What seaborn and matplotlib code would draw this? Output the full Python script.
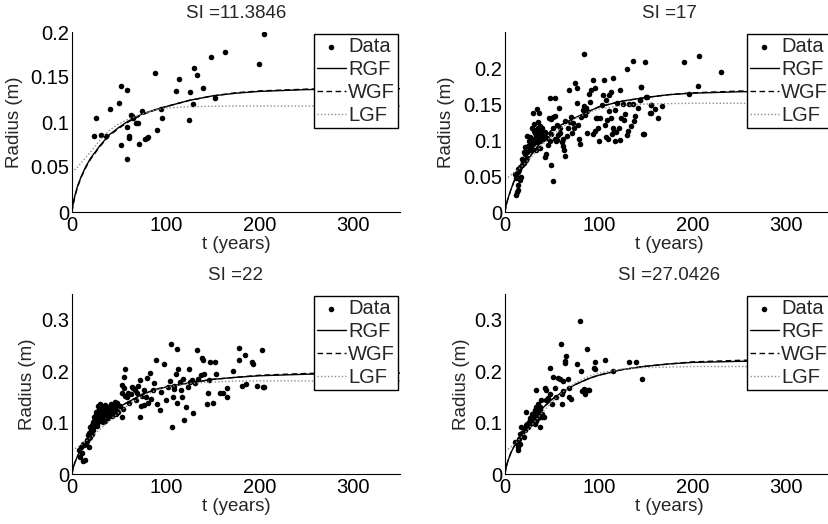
import matplotlib
matplotlib.use("Agg")
import matplotlib.pyplot as plt
import seaborn as sns

# ─── data ───────────────────────────────────────────────────────────────────

TITLES = ["SI =11.3846", "SI =17", "SI =22", "SI =27.0426"]

# common time grid for the fitted curves
fit_t = [0, 1, 3, 6, 10, 15, 20, 30, 40, 50, 60, 75, 90, 100, 125, 150, 175, 200, 250, 300, 350]

# SI = 11.3846
tl_t = [23.8, 25.9, 31.2, 35.8, 40.8, 50.0, 52.1, 52.1, 58.2, 58.9, 58.2, 60.3, 61.0, 62.8,
        64.5, 65.6, 68.1, 69.9, 72.0, 74.8, 78.0, 80.1, 81.6, 88.3, 90.8, 95.4, 96.1, 111.0,
        113.8, 124.8, 126.2, 129.0, 130.0, 133.0, 140.0, 148.2, 152.8, 162.8, 200.0, 205.3]
tl_r = [0.084, 0.105, 0.086, 0.084, 0.115, 0.121, 0.140, 0.075, 0.059, 0.136, 0.094, 0.085,
        0.082, 0.108, 0.107, 0.104, 0.099, 0.099, 0.076, 0.112, 0.081, 0.082, 0.083, 0.155,
        0.091, 0.114, 0.105, 0.134, 0.148, 0.102, 0.133, 0.120, 0.160, 0.152, 0.138, 0.172,
        0.127, 0.178, 0.164, 0.198]
tl_rgf = [0, 0.008, 0.018, 0.029, 0.040, 0.051, 0.060, 0.074, 0.086, 0.094, 0.101, 0.109,
          0.114, 0.117, 0.124, 0.129, 0.132, 0.134, 0.136, 0.1365, 0.137]
tl_wgf = [0, 0.007, 0.017, 0.028, 0.039, 0.050, 0.059, 0.073, 0.085, 0.093, 0.100, 0.108,
          0.114, 0.117, 0.124, 0.129, 0.1325, 0.1345, 0.1365, 0.1375, 0.138]
tl_lgf = [0.044, 0.045, 0.047, 0.050, 0.055, 0.061, 0.067, 0.080, 0.091, 0.098, 0.103, 0.109,
          0.1135, 0.1155, 0.117, 0.1175, 0.1177, 0.1177, 0.1177, 0.1177, 0.1177]

# SI = 17
tr_t = [12.0, 12.8, 13.5, 14.2, 15.6, 17.0, 12.0, 10.6, 13.5, 14.9, 17.7, 19.1, 20.6, 16.3,
        22.0, 23.4, 21.3, 24.0, 26.2, 28.4, 24.8, 19.9, 23.4, 29.8, 31.2, 32.6, 34.0, 31.9,
        34.8, 29.0, 29.8, 34.0, 36.0, 37.6, 39.7, 36.0, 39.0, 40.4, 36.9, 33.3, 42.6, 44.0,
        45.4, 47.5, 49.6, 51.0, 49.0, 46.8, 51.0, 53.2, 48.2, 53.2, 49.0, 51.0, 53.2, 54.6,
        56.7, 58.2, 55.3, 57.4, 60.3, 61.7, 62.4, 63.8, 64.5, 68.0, 67.4, 69.5, 70.9, 71.6,
        73.8, 75.2, 76.6, 77.3, 78.0, 78.7, 80.1, 81.6, 83.0, 84.4, 85.1, 86.5, 87.9, 89.4,
        90.8, 92.2, 93.6, 94.3, 95.7, 97.2, 99.3, 100.0, 101.4, 103.0, 104.3, 105.7, 106.4,
        107.8, 110.0, 110.6, 111.3, 112.8, 113.5, 114.2, 114.9, 116.3, 117.0, 117.7, 119.9,
        121.3, 122.7, 124.1, 125.5, 126.9, 127.7, 129.8, 130.5, 132.6, 134.0, 136.2, 136.9,
        139.0, 143.9, 144.7, 147.5, 149.6, 151.0, 155.3, 155.3, 145.4, 150.7, 143.6, 156.0,
        159.6, 167.7, 155.0, 162.8, 147.9, 191.5, 206.7, 205.7, 196.8, 230.5,
        11.5, 14.0, 18.5, 21.0, 25.5, 27.0, 30.5, 33.0, 35.5, 38.0, 41.5, 27.5, 31.0, 37.0,
        26.0, 28.0, 32.0, 35.0, 38.5, 43.0, 45.0, 56.0, 59.0, 66.0, 72.5, 88.0, 96.5, 108.5,
        115.5, 118.5, 123.0, 131.5, 137.5, 141.5, 108.0, 98.0, 84.0, 63.0]
tr_r = [0.024, 0.028, 0.031, 0.038, 0.045, 0.049, 0.052, 0.053, 0.055, 0.058, 0.065, 0.070,
        0.068, 0.062, 0.072, 0.075, 0.080, 0.083, 0.086, 0.088, 0.092, 0.084, 0.106, 0.095,
        0.101, 0.106, 0.109, 0.110, 0.116, 0.116, 0.137, 0.143, 0.137, 0.120, 0.117, 0.111,
        0.107, 0.102, 0.098, 0.086, 0.077, 0.081, 0.093, 0.099, 0.108, 0.116, 0.129, 0.130,
        0.132, 0.133, 0.158, 0.158, 0.065, 0.043, 0.102, 0.098, 0.107, 0.116, 0.121, 0.145,
        0.097, 0.092, 0.102, 0.127, 0.078, 0.169, 0.116, 0.125, 0.132, 0.110, 0.116, 0.179,
        0.172, 0.152, 0.121, 0.102, 0.095, 0.132, 0.141, 0.219, 0.135, 0.144, 0.110, 0.164,
        0.153, 0.169, 0.183, 0.108, 0.172, 0.131, 0.116, 0.098, 0.131, 0.149, 0.162, 0.184,
        0.121, 0.156, 0.102, 0.140, 0.163, 0.166, 0.130, 0.109, 0.186, 0.112, 0.098, 0.141,
        0.152, 0.116, 0.169, 0.130, 0.150, 0.128, 0.136, 0.107, 0.199, 0.150, 0.120, 0.210,
        0.150, 0.133, 0.156, 0.174, 0.109, 0.208, 0.160, 0.137, 0.148, 0.173, 0.160, 0.155,
        0.148, 0.143, 0.147, 0.137, 0.130, 0.109, 0.208, 0.216, 0.175, 0.164, 0.195,
        0.047, 0.060, 0.074, 0.090, 0.098, 0.104, 0.112, 0.097, 0.125, 0.113, 0.105, 0.094,
        0.122, 0.089,
        0.090, 0.101, 0.114, 0.104, 0.108, 0.111, 0.103, 0.100, 0.110, 0.106, 0.124, 0.140,
        0.113, 0.128, 0.117, 0.111, 0.100, 0.113, 0.127, 0.144, 0.104, 0.130, 0.147, 0.086]
tr_rgf = [0, 0.008, 0.018, 0.030, 0.044, 0.055, 0.065, 0.083, 0.100, 0.114, 0.121, 0.131,
          0.140, 0.146, 0.154, 0.159, 0.163, 0.165, 0.167, 0.168, 0.168]
tr_wgf = [0, 0.008, 0.018, 0.030, 0.044, 0.055, 0.065, 0.083, 0.100, 0.114, 0.121, 0.131,
          0.140, 0.146, 0.154, 0.159, 0.163, 0.1655, 0.168, 0.169, 0.1695]
tr_lgf = [0.046, 0.047, 0.048, 0.051, 0.055, 0.060, 0.066, 0.079, 0.093, 0.106, 0.117, 0.130,
          0.139, 0.143, 0.148, 0.150, 0.1505, 0.151, 0.151, 0.151, 0.151]

# SI = 22
bl_t = [12.0, 13.5, 8.5, 10.6, 7.1, 9.9, 12.8, 14.9, 11.3, 17.7, 16.3, 19.1, 18.4, 21.3,
        20.6, 22.7, 23.4, 19.1, 24.8, 21.9, 26.2, 24.0, 27.7, 28.4, 30.5, 31.9, 33.3, 25.5,
        29.0, 29.8, 32.6, 34.8, 36.9, 38.3, 34.8, 39.7, 41.1, 43.3, 44.7, 46.1, 47.5, 49.6,
        51.0, 53.2, 53.9, 53.2, 53.2, 55.3, 56.7, 56.0, 56.7, 58.2, 61.0, 63.0, 65.2, 67.4,
        68.8, 70.9, 72.3, 73.0, 73.8, 75.2, 76.6, 77.3, 78.7, 80.1, 81.6, 83.0, 84.4, 86.5,
        87.9, 89.4, 90.8, 93.6, 98.6, 100.7, 102.8, 104.3, 105.7, 106.4, 107.8, 109.2, 110.6,
        112.0, 112.0, 113.5, 114.9, 116.3, 118.4, 119.9, 122.0, 123.4, 124.8, 126.2, 127.7,
        129.0, 131.2, 133.3, 134.8, 138.3, 139.7, 141.1, 144.0, 146.1, 146.8, 152.5, 153.9,
        138.0, 145.0, 150.3, 161.0, 165.2, 165.2, 171.6, 178.0, 178.0, 180.9, 185.8, 185.1,
        192.2, 193.6, 197.2, 202.9, 203.5, 205.3, 158.2,
        15.5, 18.0, 22.0, 25.0, 27.0, 30.0, 33.5, 36.0, 40.0, 42.5, 45.5, 48.5, 20.0, 23.0,
        26.5, 31.5, 35.0, 38.5, 44.0, 47.0,
        16.8, 21.5, 24.5, 27.8, 29.5, 32.0, 37.5, 40.5, 59.5, 64.0, 69.5, 95.0, 108.5, 117.0]
bl_r = [0.026, 0.027, 0.034, 0.040, 0.047, 0.053, 0.056, 0.059, 0.058, 0.053, 0.066, 0.072,
        0.080, 0.077, 0.087, 0.085, 0.095, 0.092, 0.099, 0.101, 0.106, 0.111, 0.108, 0.116,
        0.103, 0.112, 0.101, 0.121, 0.127, 0.137, 0.130, 0.134, 0.125, 0.108, 0.117, 0.119,
        0.137, 0.124, 0.116, 0.140, 0.123, 0.121, 0.133, 0.111, 0.127, 0.157, 0.174, 0.168,
        0.205, 0.188, 0.151, 0.150, 0.138, 0.155, 0.168, 0.163, 0.143, 0.172, 0.183, 0.111,
        0.132, 0.151, 0.163, 0.134, 0.150, 0.186, 0.139, 0.196, 0.146, 0.163, 0.176, 0.222,
        0.137, 0.124, 0.213, 0.143, 0.169, 0.181, 0.253, 0.092, 0.150, 0.165, 0.195, 0.243,
        0.139, 0.205, 0.179, 0.163, 0.185, 0.105, 0.130, 0.169, 0.205, 0.179, 0.182, 0.119,
        0.176, 0.241, 0.185, 0.225, 0.221, 0.194, 0.137, 0.183, 0.217, 0.217, 0.194, 0.193,
        0.158, 0.139, 0.158, 0.168, 0.150, 0.200, 0.245, 0.221, 0.172, 0.175, 0.232, 0.217,
        0.213, 0.172, 0.242, 0.170, 0.170, 0.158,
        0.064, 0.070, 0.090, 0.104, 0.098, 0.110, 0.122, 0.114, 0.128, 0.112, 0.130, 0.138,
        0.083, 0.103, 0.093, 0.120, 0.104, 0.131, 0.127, 0.117,
        0.075, 0.096, 0.113, 0.132, 0.110, 0.126, 0.112, 0.131, 0.158, 0.170, 0.158, 0.160,
        0.172, 0.150]
bl_rgf = [0, 0.010, 0.022, 0.035, 0.049, 0.065, 0.079, 0.101, 0.118, 0.130, 0.140, 0.155,
          0.165, 0.169, 0.177, 0.184, 0.188, 0.191, 0.194, 0.1955, 0.196]
bl_wgf = [0, 0.010, 0.022, 0.035, 0.049, 0.065, 0.079, 0.101, 0.118, 0.130, 0.140, 0.155,
          0.165, 0.169, 0.177, 0.184, 0.188, 0.192, 0.1955, 0.197, 0.198]
bl_lgf = [0.046, 0.047, 0.049, 0.052, 0.057, 0.064, 0.071, 0.087, 0.104, 0.120, 0.134, 0.151,
          0.163, 0.168, 0.176, 0.179, 0.1805, 0.181, 0.181, 0.181, 0.181]

# SI = 27.0426
br_t = [13.5, 14.2, 12.0, 10.6, 15.6, 14.9, 16.3, 17.7, 17.0, 19.9, 21.3, 22.0, 23.4, 22.7,
        24.8, 25.5, 26.2, 27.7, 28.4, 29.0, 29.8, 30.5, 31.2, 31.9, 32.6, 33.3, 34.0, 34.8,
        33.3, 35.5, 36.2, 36.9, 37.6, 38.3, 39.0, 39.7, 41.8, 42.6, 43.3, 44.0, 46.1, 47.5,
        48.2, 50.4, 51.0, 53.2, 54.6, 56.7, 58.2, 59.6, 60.3, 61.0, 61.7, 62.4, 63.8, 64.5,
        65.2, 67.4, 68.1, 68.8, 70.9, 76.6, 80.1, 80.9, 82.3, 84.4, 85.8, 87.9, 88.7, 90.0,
        95.0, 95.7, 96.5, 106.4, 114.9, 131.9, 139.7, 146.1,
        20.5, 26.8, 30.0, 32.0, 35.0, 37.0]
br_r = [0.047, 0.052, 0.061, 0.063, 0.058, 0.069, 0.077, 0.079, 0.092, 0.072, 0.085, 0.095,
        0.098, 0.121, 0.092, 0.101, 0.108, 0.103, 0.112, 0.117, 0.105, 0.111, 0.119, 0.125,
        0.130, 0.103, 0.114, 0.137, 0.163, 0.108, 0.119, 0.127, 0.092, 0.143, 0.117, 0.111,
        0.111, 0.168, 0.163, 0.143, 0.148, 0.155, 0.207, 0.137, 0.188, 0.168, 0.150, 0.187,
        0.185, 0.252, 0.136, 0.156, 0.161, 0.181, 0.219, 0.216, 0.230, 0.185, 0.168, 0.150,
        0.145, 0.213, 0.297, 0.200, 0.161, 0.165, 0.155, 0.243, 0.163, 0.164, 0.207, 0.217,
        0.205, 0.221, 0.200, 0.218, 0.217, 0.185,
        0.088, 0.098, 0.108, 0.098, 0.121, 0.130]
br_rgf = [0, 0.011, 0.025, 0.040, 0.055, 0.070, 0.083, 0.107, 0.128, 0.145, 0.158, 0.174,
          0.186, 0.192, 0.203, 0.2095, 0.214, 0.217, 0.219, 0.2205, 0.221]
br_wgf = [0, 0.011, 0.025, 0.040, 0.055, 0.070, 0.083, 0.107, 0.128, 0.145, 0.158, 0.174,
          0.186, 0.192, 0.203, 0.2095, 0.214, 0.218, 0.221, 0.223, 0.224]
br_lgf = [0.045, 0.046, 0.048, 0.052, 0.058, 0.067, 0.077, 0.098, 0.120, 0.140, 0.157, 0.177,
          0.190, 0.196, 0.204, 0.207, 0.208, 0.209, 0.209, 0.209, 0.209]

YLIMS  = [0.2, 0.25, 0.35, 0.35]
YTICKS = [[0, 0.05, 0.1, 0.15, 0.2], [0, 0.05, 0.1, 0.15, 0.2], [0, 0.1, 0.2, 0.3], [0, 0.1, 0.2, 0.3]]
YLAB_X = [-0.149, -0.152, -0.110, -0.107]

# ─── plot ───────────────────────────────────────────────────────────────────

sns.set_theme(style="white")
plt.rcParams["font.family"] = ["Liberation Sans", "DejaVu Sans"]

fig = plt.figure(figsize=(8.29, 5.24), dpi=100)
W, H = 829, 524
boxes = [(72, 212), (505, 212), (72, 474), (505, 474)]  # (left px, bottom px)

panels = [
    (tl_t, tl_r, tl_rgf, tl_wgf, tl_lgf),
    (tr_t, tr_r, tr_rgf, tr_wgf, tr_lgf),
    (bl_t, bl_r, bl_rgf, bl_wgf, bl_lgf),
    (br_t, br_r, br_rgf, br_wgf, br_lgf),
]

for i, (t, r, rgf, wgf, lgf) in enumerate(panels):
    lx, by = boxes[i]
    ax = fig.add_axes([lx / W, (H - by) / H, 328 / W, 180 / H])

    sns.scatterplot(x=t, y=r, ax=ax, color="black", s=16, linewidth=0, label="Data")
    sns.lineplot(x=fit_t, y=rgf, ax=ax, color="black", lw=1.0, label="RGF",
                 estimator=None, sort=False)
    sns.lineplot(x=fit_t, y=wgf, ax=ax, color="black", lw=1.0, linestyle=(0, (4, 2.5)),
                 label="WGF", estimator=None, sort=False)
    sns.lineplot(x=fit_t, y=lgf, ax=ax, color="#8c8c8c", lw=1.0, linestyle=(0, (1, 1.5)),
                 label="LGF", estimator=None, sort=False)

    ax.set_xlim(0, 350)
    ax.set_ylim(0, YLIMS[i])
    ax.set_xticks([0, 100, 200, 300])
    ax.set_yticks(YTICKS[i])
    ax.set_yticklabels([f"{v:g}" for v in YTICKS[i]])
    ax.tick_params(direction="in", length=3, width=0.6, labelsize=14.5, colors="black")
    ax.tick_params(axis="y", pad=2)
    ax.tick_params(axis="x", pad=3)
    for side in ["top", "right"]:
        ax.spines[side].set_visible(False)
    for side in ["left", "bottom"]:
        ax.spines[side].set_color("black")
        ax.spines[side].set_linewidth(0.8)

    ax.set_title(TITLES[i], fontsize=13.5, pad=10)
    ax.set_xlabel("t (years)", fontsize=13.5)
    ax.set_ylabel("Radius (m)", fontsize=13.5)
    ax.xaxis.set_label_coords(0.5, -0.135)
    ax.yaxis.set_label_coords(YLAB_X[i], 0.5)

    leg = ax.legend(loc="upper right", fontsize=14.5, frameon=True, fancybox=False,
                    borderpad=0.15, borderaxespad=0.1, handlelength=1.45, handletextpad=0.1,
                    labelspacing=0.2, markerscale=1.0)
    leg.get_frame().set_edgecolor("black")
    leg.get_frame().set_linewidth(1.0)
    leg.get_frame().set_alpha(1)

fig.savefig("out.png", dpi=100)
